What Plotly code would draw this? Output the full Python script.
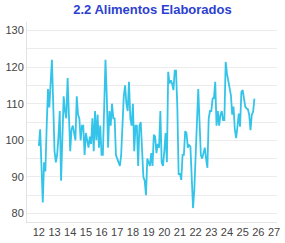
import plotly.graph_objects as go

title_text = "2.2 Alimentos Elaborados"
start_year = 12
values = [
    98.5, 103, 93, 83, 94, 91.5, 104, 114, 109, 118, 122, 110, 97, 94, 96, 101, 108, 89, 104, 112,
    108, 106, 117, 108, 97, 103, 104,
    102, 100, 112, 107, 106, 100, 104, 104, 96, 102, 100, 98, 101, 99, 106, 97, 108, 100, 107, 98,
    104, 96, 96, 110, 122, 112, 98, 108, 104,
    110, 106, 106, 96, 95, 94, 93, 96, 104, 112, 115, 110, 108, 116, 106, 104, 110, 97, 104, 104,
    93, 104, 105, 97, 90, 89, 85, 95, 94,
    93, 96.5, 93, 101.5, 101, 96.5, 99, 98, 108, 94, 93, 97, 102, 94, 118.7, 115.5, 116.4, 115.5,
    113.7, 119, 119, 109, 90.6, 91, 89.2, 96, 96, 102.5,
    102, 98, 98.7, 98.3, 90, 81.5, 86.5, 95, 105.5, 114, 105, 96, 95, 97, 98, 95, 92.5, 106, 108,
    108, 111.4, 111.5, 116, 104, 108, 104, 107, 108, 105.5,
    105.5, 121.4, 118.2, 116, 114.6, 112.3, 107, 109.2, 103, 100.6, 103.7, 107.3, 103.7, 113.2,
    113.7, 111.4, 109.2, 108.7, 108.5, 107, 102.8, 107, 107.8, 111.4,
]
x_vals = [start_year + i / 12 for i in range(len(values))]
tick_vals = list(range(12, 28))
tick_text = [str(t) for t in tick_vals]
y_ticks = [80, 90, 100, 110, 120, 130]

fig = go.Figure()
fig.add_trace(go.Scatter(x=x_vals, y=values, mode="lines",
                         line=dict(color="#35c4e9", width=1.8), hoverinfo="skip"))

fig.update_layout(
    width=285, height=243,
    margin=dict(l=27, r=5, t=22, b=20),
    paper_bgcolor="white", plot_bgcolor="white",
    showlegend=False,
    font=dict(family="Liberation Sans, Arial, sans-serif", color="#444", size=11),
    title=dict(text="<b>" + title_text + "</b>", x=0.535, xanchor="center", y=0.962, yanchor="middle",
               font=dict(size=13, color="#2c3fd0", family="Liberation Sans, Arial, sans-serif")),
    xaxis=dict(range=[11.244, 27.19], tickvals=tick_vals, ticktext=tick_text,
               showgrid=False, zeroline=False, showline=True, linecolor="#e3e3e3", linewidth=1,
               ticks="", tickfont=dict(size=11, color="#444")),
    yaxis=dict(range=[77.7, 132.3], tickvals=y_ticks, showgrid=True, gridcolor="#ececec",
               gridwidth=1, zeroline=False, showline=True, linecolor="#e3e3e3", linewidth=1,
               ticks="", tickfont=dict(size=11, color="#444"),
               minor=dict(dtick=5, tick0=80, showgrid=True, gridcolor="#ececec", gridwidth=1)),
)

fig.write_html("out.html")
